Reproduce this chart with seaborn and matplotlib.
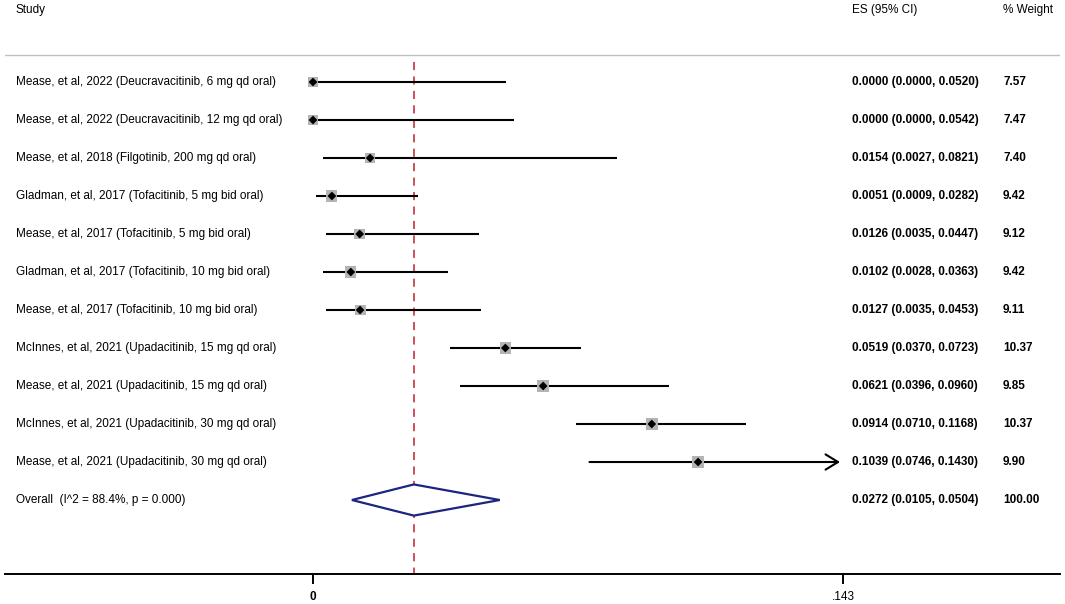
import numpy as np
import pandas as pd
import matplotlib
matplotlib.use("Agg")
import matplotlib.pyplot as plt
import matplotlib.transforms as mtransforms
import seaborn as sns

# Study data
studies = [
    "Mease, et al, 2022 (Deucravacitinib, 6 mg qd oral)",
    "Mease, et al, 2022 (Deucravacitinib, 12 mg qd oral)",
    "Mease, et al, 2018 (Filgotinib, 200 mg qd oral)",
    "Gladman, et al, 2017 (Tofacitinib, 5 mg bid oral)",
    "Mease, et al, 2017 (Tofacitinib, 5 mg bid oral)",
    "Gladman, et al, 2017 (Tofacitinib, 10 mg bid oral)",
    "Mease, et al, 2017 (Tofacitinib, 10 mg bid oral)",
    "McInnes, et al, 2021 (Upadacitinib, 15 mg qd oral)",
    "Mease, et al, 2021 (Upadacitinib, 15 mg qd oral)",
    "McInnes, et al, 2021 (Upadacitinib, 30 mg qd oral)",
    "Mease, et al, 2021 (Upadacitinib, 30 mg qd oral)",
]
es = [0.0000, 0.0000, 0.0154, 0.0051, 0.0126, 0.0102, 0.0127, 0.0519, 0.0621, 0.0914, 0.1039]
lower = [0.0000, 0.0000, 0.0027, 0.0009, 0.0035, 0.0028, 0.0035, 0.0370, 0.0396, 0.0710, 0.0746]
upper = [0.0520, 0.0542, 0.0821, 0.0282, 0.0447, 0.0363, 0.0453, 0.0723, 0.0960, 0.1168, 0.1430]
weights = [7.57, 7.47, 7.40, 9.42, 9.12, 9.42, 9.11, 10.37, 9.85, 10.37, 9.90]

overall_label = "Overall  (I^2 = 88.4%, p = 0.000)"
overall_es = 0.0272
overall_lower = 0.0105
overall_upper = 0.0504
overall_weight = 100.00

xticks = [0, 0.143]
xticklabels = ["0", ".143"]

df = pd.DataFrame({"study": studies, "es": es, "lower": lower,
                   "upper": upper, "weight": weights})
df["row"] = np.arange(len(df))
overall_row = len(df)

sns.set_style("white")
plt.rcParams["font.family"] = ["Liberation Sans", "DejaVu Sans"]
plt.rcParams["text.color"] = "black"

fig = plt.figure(figsize=(10.65, 6.04), dpi=100)
ax = fig.add_axes([5 / 1065, 30 / 604, 1055 / 1065, 574 / 604])
ax.set_xlim(-0.0831, 0.20155)
ax.set_ylim(12.947, -2.158)

# reference line at the pooled estimate
ax.vlines(overall_es, -0.53, 12.947, color="#c8414b", lw=1.3,
          linestyles=(0, (4.5, 3.5)), zorder=1)

# confidence intervals (arrow where CI runs off the scale)
x_max = xticks[-1]
for _, r in df.iterrows():
    if r["upper"] >= x_max:
        ax.annotate("", xy=(r["upper"] - 0.0008, r["row"]), xytext=(r["lower"], r["row"]),
                    arrowprops=dict(arrowstyle="->,head_length=0.9,head_width=0.55",
                                    color="black", lw=1.5, shrinkA=0, shrinkB=0),
                    zorder=2)
    else:
        ax.hlines(r["row"], r["lower"], r["upper"], color="black", lw=1.5, zorder=2)

# weight boxes and point estimates
sns.scatterplot(data=df, x="es", y="row", size="weight",
                sizes=(min(weights) * 6.8, max(weights) * 6.8),
                marker="s", color="#b4b4b4", edgecolor="none",
                legend=False, ax=ax, zorder=3)
sns.scatterplot(data=df, x="es", y="row", marker="D", color="black",
                s=20, edgecolor="none", legend=False, ax=ax, zorder=4)

# pooled diamond
ax.fill([overall_lower, overall_es, overall_upper, overall_es],
        [overall_row, overall_row - 0.41, overall_row, overall_row + 0.41],
        facecolor="white", edgecolor="#1c2580", lw=1.6, zorder=3)

# text columns
trans = mtransforms.blended_transform_factory(ax.transAxes, ax.transData)
x_study, x_es, x_wt = 11 / 1055, 847 / 1055, 998 / 1055
fs = 8.5
ax.text(x_study, -1.895, "Study", transform=trans, fontsize=fs, va="center")
ax.text(x_es, -1.895, "ES (95% CI)", transform=trans, fontsize=fs, va="center")
ax.text(x_wt, -1.895, "% Weight", transform=trans, fontsize=fs, va="center")
ax.plot([0, 1], [-0.711, -0.711], transform=trans, color="#c0c0c0", lw=1.0)

for _, r in df.iterrows():
    ax.text(x_study, r["row"], r["study"], transform=trans, fontsize=fs, va="center")
    ax.text(x_es, r["row"], f"{r['es']:.4f} ({r['lower']:.4f}, {r['upper']:.4f})",
            transform=trans, fontsize=fs, va="center", fontweight="bold")
    ax.text(x_wt, r["row"], f"{r['weight']:.2f}", transform=trans, fontsize=fs,
            va="center", fontweight="bold")

ax.text(x_study, overall_row, overall_label, transform=trans, fontsize=fs, va="center")
ax.text(x_es, overall_row,
        f"{overall_es:.4f} ({overall_lower:.4f}, {overall_upper:.4f})",
        transform=trans, fontsize=fs, va="center", fontweight="bold")
ax.text(x_wt, overall_row, f"{overall_weight:.2f}", transform=trans, fontsize=fs,
        va="center", fontweight="bold")

# axis
for side in ["top", "left", "right"]:
    ax.spines[side].set_visible(False)
ax.spines["bottom"].set_linewidth(1.4)
ax.spines["bottom"].set_color("black")
ax.set_yticks([])
ax.set_xticks(xticks, labels=xticklabels)
ax.tick_params(axis="x", direction="out", length=7, width=1.4, pad=5,
               labelsize=fs, bottom=True, colors="black")
ax.get_xticklabels()[0].set_fontweight("bold")
ax.set_xlabel("")
ax.set_ylabel("")

fig.savefig("out.png", dpi=100)
